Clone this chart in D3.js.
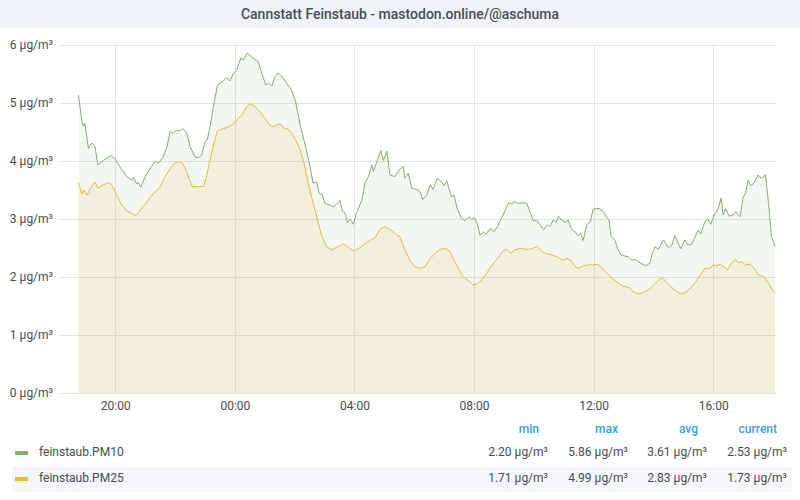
<!DOCTYPE html>
<html>
<head>
<meta charset="utf-8">
<script src="https://cdn.jsdelivr.net/npm/d3@7"></script>
<style>
  html, body { margin: 0; padding: 0; background: #ffffff; }
  svg { display: block; font-family: Roboto, "Noto Sans", sans-serif; }
</style>
</head>
<body>
<svg id="chart" width="800" height="500"></svg>
<script>
// ---------- data ----------
const chartTitle = "Cannstatt Feinstaub - mastodon.online/@aschuma";
const seriesNames = ["feinstaub.PM10", "feinstaub.PM25"];
const seriesColors = ["#7eb26d", "#eab839"];
const yTicks = [0, 1, 2, 3, 4, 5, 6];
const unit = " µg/m³";
const rangeStart = "18:09";
const rangeEnd = "18:06";
const statHeaders = ["min", "max", "avg", "current"];
const pm10Stats = ["2.20 µg/m³", "5.86 µg/m³", "3.61 µg/m³", "2.53 µg/m³"];
const pm25Stats = ["1.71 µg/m³", "4.99 µg/m³", "2.83 µg/m³", "1.73 µg/m³"];

const pm10Times = ["18:46","18:53","18:56","18:59","19:06","19:13","19:19","19:25","19:36","19:51","19:59",
 "20:09","20:23","20:33","20:36","20:43","20:46","20:51","21:00","21:10","21:20","21:26","21:36","21:44","21:50",
 "21:55","22:03","22:10","22:15","22:23","22:30","22:40","22:47","22:53","23:00","23:05","23:10","23:17","23:25",
 "23:37","23:42","23:50","23:57","00:04","00:12","00:17","00:25","00:37","00:47","00:54","01:02","01:08","01:14",
 "01:20","01:27","01:37","01:44","01:54","02:02","02:11","02:21","02:31","02:37","02:44","02:49","02:55","03:01",
 "03:11","03:18","03:24","03:31","03:36","03:41","03:46","03:51","03:58","04:04","04:15","04:21","04:28","04:35",
 "04:38","04:45","04:53","04:58","05:05","05:11","05:21","05:31","05:38","05:41","05:48","05:55","06:05","06:12",
 "06:17","06:25","06:32","06:38","06:46","06:55","07:00","07:05","07:15","07:20","07:26","07:35","07:42","07:50",
 "07:55","08:02","08:07","08:12","08:19","08:24","08:33","08:40","08:47","08:55","09:02","09:09","09:16","09:20",
 "09:29","09:39","09:46","09:52","09:59","10:06","10:11","10:20","10:27","10:32","10:39","10:45","10:49","10:56",
 "11:03","11:09","11:16","11:23","11:29","11:34","11:39","11:46","11:53","11:59","12:06","12:11","12:19","12:28",
 "12:31","12:35","12:43","12:48","12:55","13:03","13:10","13:16","13:23","13:30","13:40","13:46","13:53","13:58",
 "14:03","14:10","14:20","14:30","14:37","14:43","14:50","14:55","15:03","15:10","15:17","15:23","15:30","15:35",
 "15:43","15:49","15:55","16:02","16:09","16:16","16:20","16:25","16:32","16:40","16:45","16:54","17:00","17:05",
 "17:10","17:16","17:22","17:30","17:37","17:45","17:51","17:57","18:04"];
const pm10Values = [5.14,4.68,4.60,4.65,4.22,4.31,4.26,3.93,4.01,4.09,4.05,
 3.90,3.73,3.67,3.72,3.60,3.63,3.55,3.73,3.87,4.00,3.96,4.07,4.25,4.51,
 4.48,4.53,4.52,4.56,4.49,4.25,4.07,4.06,4.10,4.33,4.38,4.59,4.94,5.31,
 5.38,5.44,5.38,5.51,5.58,5.78,5.74,5.86,5.77,5.71,5.51,5.31,5.34,5.29,
 5.45,5.52,5.43,5.34,5.22,5.02,4.62,4.28,3.90,3.62,3.64,3.44,3.43,3.27,
 3.24,3.21,3.26,3.32,3.13,3.10,2.94,3.00,2.91,3.10,3.33,3.62,3.73,3.93,
 3.82,3.99,4.18,4.01,4.17,3.76,3.73,3.86,3.91,3.70,3.79,3.53,3.51,3.47,
 3.34,3.41,3.59,3.51,3.70,3.64,3.57,3.66,3.38,3.41,3.18,3.01,2.97,3.04,
 3.00,3.01,2.90,2.72,2.78,2.74,2.84,2.78,2.87,3.01,3.14,3.28,3.26,3.30,
 3.27,3.28,3.27,3.13,2.97,2.98,2.91,2.82,2.90,2.87,2.98,2.95,3.05,2.98,
 2.95,2.98,2.82,2.78,2.71,2.75,2.63,2.90,2.95,3.17,3.18,3.18,3.13,3.01,
 2.98,2.70,2.63,2.49,2.38,2.36,2.35,2.29,2.30,2.26,2.21,2.20,2.24,2.41,
 2.52,2.48,2.64,2.51,2.55,2.71,2.58,2.49,2.64,2.55,2.57,2.68,2.81,2.74,
 2.95,3.00,2.91,3.07,3.16,3.36,3.07,3.18,3.05,3.07,3.13,3.04,3.37,3.45,
 3.67,3.57,3.63,3.76,3.70,3.76,3.27,2.70,2.53];

const pm25Times = ["18:46","18:53","18:57","19:03","19:08","19:15","19:19","19:25","19:36","19:46","19:53",
 "20:03","20:13","20:23","20:33","20:40","20:46","20:55","21:03","21:10","21:20","21:30","21:40","21:50","21:58",
 "22:06","22:15","22:22","22:29","22:35","22:47","22:57","23:03","23:10","23:18","23:25","23:34","23:44","23:54",
 "00:04","00:14","00:24","00:30","00:40","00:50","01:00","01:10","01:17","01:27","01:34","01:39","01:47","01:54",
 "02:02","02:11","02:19","02:27","02:37","02:46","02:54","03:04","03:14","03:24","03:38","03:48","03:58","04:08",
 "04:21","04:33","04:41","04:51","05:00","05:11","05:25","05:31","05:41","05:51","06:01","06:12","06:22","06:32",
 "06:42","06:52","07:04","07:12","07:18","07:28","07:38","07:48","07:57","08:07","08:15","08:25","08:35","08:47",
 "08:57","09:05","09:14","09:22","09:32","09:44","09:54","10:02","10:07","10:16","10:26","10:36","10:47","10:58",
 "11:06","11:14","11:23","11:29","11:39","11:49","11:59","12:09","12:19","12:29","12:40","12:50","13:00","13:10",
 "13:18","13:26","13:33","13:43","13:51","14:00","14:10","14:18","14:27","14:37","14:47","14:55","15:03","15:13",
 "15:23","15:34","15:43","15:54","16:00","16:07","16:14","16:20","16:29","16:37","16:44","16:51","16:58","17:05",
 "17:14","17:22","17:32","17:41","17:51","17:59","18:04"];
const pm25Values = [3.63,3.43,3.50,3.41,3.50,3.59,3.64,3.53,3.59,3.63,3.59,
 3.41,3.24,3.14,3.10,3.06,3.10,3.21,3.28,3.38,3.47,3.55,3.73,3.87,3.95,
 3.99,3.96,3.84,3.67,3.56,3.56,3.56,3.73,4.02,4.31,4.52,4.55,4.58,4.62,
 4.71,4.79,4.94,4.99,4.94,4.85,4.74,4.62,4.59,4.64,4.62,4.56,4.55,4.48,
 4.36,4.19,3.96,3.62,3.27,2.98,2.72,2.52,2.47,2.51,2.57,2.51,2.45,2.49,
 2.57,2.64,2.67,2.82,2.87,2.82,2.72,2.70,2.47,2.29,2.18,2.15,2.18,2.32,
 2.41,2.48,2.49,2.44,2.32,2.15,2.01,1.94,1.87,1.88,1.95,2.06,2.19,2.32,
 2.44,2.48,2.41,2.47,2.49,2.48,2.48,2.51,2.53,2.44,2.40,2.38,2.35,2.29,
 2.32,2.29,2.18,2.15,2.19,2.21,2.21,2.22,2.13,2.05,1.96,1.89,1.84,1.82,
 1.76,1.72,1.71,1.75,1.78,1.86,1.94,1.99,1.90,1.82,1.75,1.71,1.73,1.79,
 1.90,2.03,2.15,2.15,2.21,2.19,2.22,2.18,2.13,2.24,2.30,2.25,2.26,2.21,
 2.22,2.15,2.03,2.01,1.89,1.78,1.73];

// ---------- helpers ----------
function parseSeq(times) {
  let prev = -1, day = 0;
  return times.map(s => {
    const [h, m] = s.split(":").map(Number);
    const mins = h * 60 + m;
    if (mins < prev) day = 1;
    prev = mins;
    return new Date(2023, 0, 1 + day, h, m);
  });
}
const t10 = parseSeq(pm10Times);
const t25 = parseSeq(pm25Times);
const series = [
  t10.map((t, i) => ({ t, v: pm10Values[i] })),
  t25.map((t, i) => ({ t, v: pm25Values[i] }))
];
const [rsH, rsM] = rangeStart.split(":").map(Number);
const [reH, reM] = rangeEnd.split(":").map(Number);
const domainStart = new Date(2023, 0, 1, rsH, rsM);
const domainEnd = new Date(2023, 0, 2, reH, reM);

// ---------- layout ----------
const svg = d3.select("#chart");
const plot = { left: 60, right: 776, top: 45, bottom: 393 };
const textColor = "#464c54";

// title bar
svg.append("rect").attr("x", 0).attr("y", 0).attr("width", 800).attr("height", 28).attr("fill", "#f0f3f8");
svg.append("text").attr("x", 400).attr("y", 19).attr("text-anchor", "middle")
  .attr("font-size", 14).attr("font-weight", 500).attr("fill", "#464c54").text(chartTitle);

const x = d3.scaleTime().domain([domainStart, domainEnd]).range([plot.left, plot.right]);
const y = d3.scaleLinear().domain([0, 6]).range([plot.bottom, plot.top]);

// grid
const xTickVals = x.ticks(d3.timeHour.every(4));
svg.append("g").selectAll("line").data(yTicks).join("line")
  .attr("x1", plot.left).attr("x2", plot.right)
  .attr("y1", d => Math.round(y(d)) + 0.5).attr("y2", d => Math.round(y(d)) + 0.5)
  .attr("stroke", "#e4e4e4").attr("stroke-width", 1);
svg.append("g").selectAll("line").data(xTickVals).join("line")
  .attr("x1", d => Math.round(x(d)) + 0.5).attr("x2", d => Math.round(x(d)) + 0.5)
  .attr("y1", plot.top).attr("y2", plot.bottom)
  .attr("stroke", "#e4e4e4").attr("stroke-width", 1);

// axes
const yAxis = d3.axisLeft(y).tickValues(yTicks).tickFormat(d => d + unit).tickSize(0).tickPadding(7);
const gy = svg.append("g").attr("transform", `translate(${plot.left},0)`).call(yAxis);
gy.select(".domain").remove();
gy.selectAll("text").attr("font-size", 12).attr("fill", textColor).attr("font-family", "Roboto, sans-serif");

const xAxis = d3.axisBottom(x).tickValues(xTickVals).tickFormat(d3.timeFormat("%H:%M")).tickSize(0).tickPadding(8);
const gx = svg.append("g").attr("transform", `translate(0,${plot.bottom})`).call(xAxis);
gx.select(".domain").remove();
gx.selectAll("text").attr("font-size", 12).attr("fill", textColor).attr("font-family", "Roboto, sans-serif");

// areas + lines
const area = d3.area().x(d => x(d.t)).y0(y(0)).y1(d => y(d.v));
const line = d3.line().x(d => x(d.t)).y(d => y(d.v));
series.forEach((s, i) => {
  svg.append("path").datum(s).attr("d", area).attr("fill", seriesColors[i]).attr("fill-opacity", 0.1);
});
series.forEach((s, i) => {
  svg.append("path").datum(s).attr("d", line).attr("fill", "none")
    .attr("stroke", seriesColors[i]).attr("stroke-width", 1).attr("stroke-linejoin", "round");
});

// legend
const lg = svg.append("g");
const headerRight = [539, 618, 698, 777];
const valueRight = [548, 628, 707, 787];
statHeaders.forEach((h, i) => {
  lg.append("text").attr("x", headerRight[i]).attr("y", 433).attr("text-anchor", "end")
    .attr("font-size", 12).attr("font-weight", 500).attr("fill", "#33a2e5").text(h);
});
lg.append("rect").attr("x", 12).attr("y", 466).attr("width", 780).attr("height", 26).attr("fill", "#f5f6f9");
const statsRows = [pm10Stats, pm25Stats];
const rowY = [452, 478];
seriesNames.forEach((n, i) => {
  lg.append("rect").attr("x", 15).attr("y", rowY[i] - 1).attr("width", 13).attr("height", 4)
    .attr("fill", seriesColors[i]);
  lg.append("text").attr("x", 39).attr("y", rowY[i] + 4).attr("font-size", 12).attr("fill", textColor).text(n);
  statsRows[i].forEach((v, j) => {
    lg.append("text").attr("x", valueRight[j]).attr("y", rowY[i] + 4).attr("text-anchor", "end")
      .attr("font-size", 12).attr("fill", textColor).text(v);
  });
});
</script>
</body>
</html>
